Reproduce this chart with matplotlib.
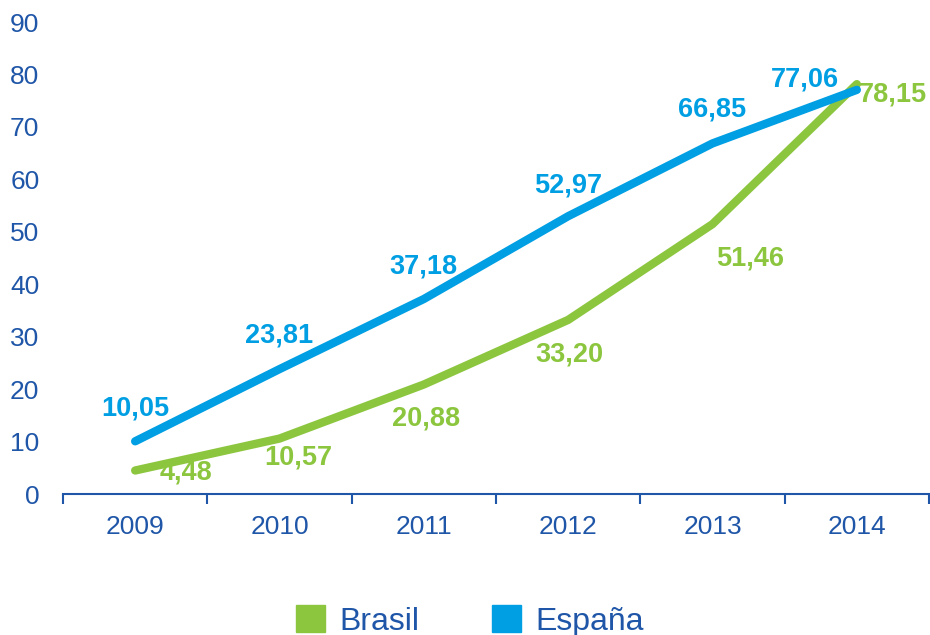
import matplotlib
matplotlib.use("Agg")
import matplotlib.pyplot as plt
from matplotlib.patches import Patch

years = ["2009", "2010", "2011", "2012", "2013", "2014"]
brasil = [4.48, 10.57, 20.88, 33.20, 51.46, 78.15]
espana = [10.05, 23.81, 37.18, 52.97, 66.85, 77.06]
yticks = [0, 10, 20, 30, 40, 50, 60, 70, 80, 90]

# label offsets in pixels (styling)
esp_off = [(0, 33), (0, 34), (0, 33), (0, 31), (0, 34), (-52, 10)]
bra_off = [(51, -2), (19, -19), (2, -34), (1, -35), (38, -34), (36, -10)]

c_blue = "#009fe3"
c_green = "#8cc63f"
c_text = "#1f56a8"

plt.rcParams['font.family'] = ['Liberation Sans', 'DejaVu Sans']

fig = plt.figure(figsize=(9.3, 6.35), dpi=100)
ax = fig.add_axes([63/930, 1 - 494/635, (929-63)/930, (494-22)/635])

x = list(range(len(years)))
ax.plot(x, brasil, color=c_green, lw=6, solid_capstyle='round', solid_joinstyle='round', zorder=3)
ax.plot(x, espana, color=c_blue, lw=6, solid_capstyle='round', solid_joinstyle='round', zorder=4)

def fmt(v):
    return f"{v:.2f}".replace(".", ",")

for xi, v, off in zip(x, espana, esp_off):
    ax.annotate(fmt(v), (xi, v), xytext=off, textcoords='offset pixels',
                ha='center', va='center', color=c_blue, fontsize=19.5, fontweight='bold', zorder=5)
for xi, v, off in zip(x, brasil, bra_off):
    ax.annotate(fmt(v), (xi, v), xytext=off, textcoords='offset pixels',
                ha='center', va='center', color=c_green, fontsize=19.5, fontweight='bold', zorder=5)

ax.set_xlim(-0.5, len(years) - 0.5)
ax.set_ylim(0, 90)
ax.set_yticks(yticks)
ax.set_yticklabels([str(t) for t in yticks])
ax.set_xticks(x)
ax.set_xticklabels(years)
ax.set_xticks([i - 0.5 for i in range(len(years) + 1)], minor=True)

for s in ['top', 'right', 'left']:
    ax.spines[s].set_visible(False)
ax.spines['bottom'].set_color(c_text)
ax.spines['bottom'].set_linewidth(1.5)
ax.tick_params(axis='y', length=0, labelsize=19, labelcolor=c_text, pad=17)
ax.tick_params(axis='x', which='major', length=0, labelsize=19, labelcolor=c_text, pad=15)
ax.tick_params(axis='x', which='minor', length=7, width=1.5, color=c_text, direction='out')
ax.patch.set_alpha(0)

handles = [Patch(color=c_green, label="Brasil"), Patch(color=c_blue, label="España")]
leg = fig.legend(handles=handles, loc='center', bbox_to_anchor=(470/930, 1 - 621/635),
                 ncol=2, frameon=False, fontsize=23, handlelength=0.9, handleheight=0.9,
                 handletextpad=0.45, columnspacing=2.3)
for t in leg.get_texts():
    t.set_color(c_text)

fig.savefig("out.png", dpi=100)
